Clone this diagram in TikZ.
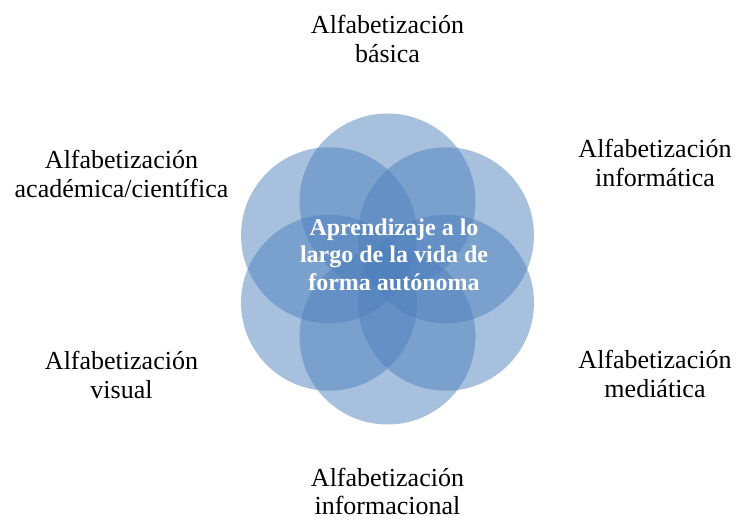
\documentclass[tikz,border=0pt]{standalone}
\usepackage{fontspec}
\setmainfont{Liberation Serif}
\usetikzlibrary{calc}
\definecolor{petal}{HTML}{4F81BD}
\begin{document}
\begin{tikzpicture}[x=1pt,y=-1pt,
  petalstyle/.style={fill=petal,fill opacity=0.5,draw=none},
  lbl/.style={align=center,inner sep=0pt,anchor=base,font=\fontsize{26}{29}\selectfont,text=black},
  core/.style={align=center,inner sep=0pt,anchor=base,text=white,font=\bfseries\fontsize{24}{27.5}\selectfont}]
\useasboundingbox (0,0) rectangle (735,521);
\coordinate (c) at (387.5,269);
\foreach \a in {90,30,-30,-90,-150,150}{
  \path[petalstyle] ($(c)+(\a:67.5)$) circle[radius=88];
}
\node[core] (centre) at (394,290) {Aprendizaje a lo\\largo de la vida de\\forma autónoma};
\node[lbl] (basica) at (387.5,63) {Alfabetización\\básica};
\node[lbl] (informatica) at (655,187) {Alfabetización\\informática};
\node[lbl] (academica) at (121.5,198) {Alfabetización\\académica/científica};
\node[lbl] (visual) at (121.5,398) {Alfabetización\\visual};
\node[lbl] (mediatica) at (655,397) {Alfabetización\\mediática};
\node[lbl,font=\fontsize{26}{28}\selectfont] (informacional) at (387.5,514.5) {Alfabetización\\informacional};
\end{tikzpicture}
\end{document}
